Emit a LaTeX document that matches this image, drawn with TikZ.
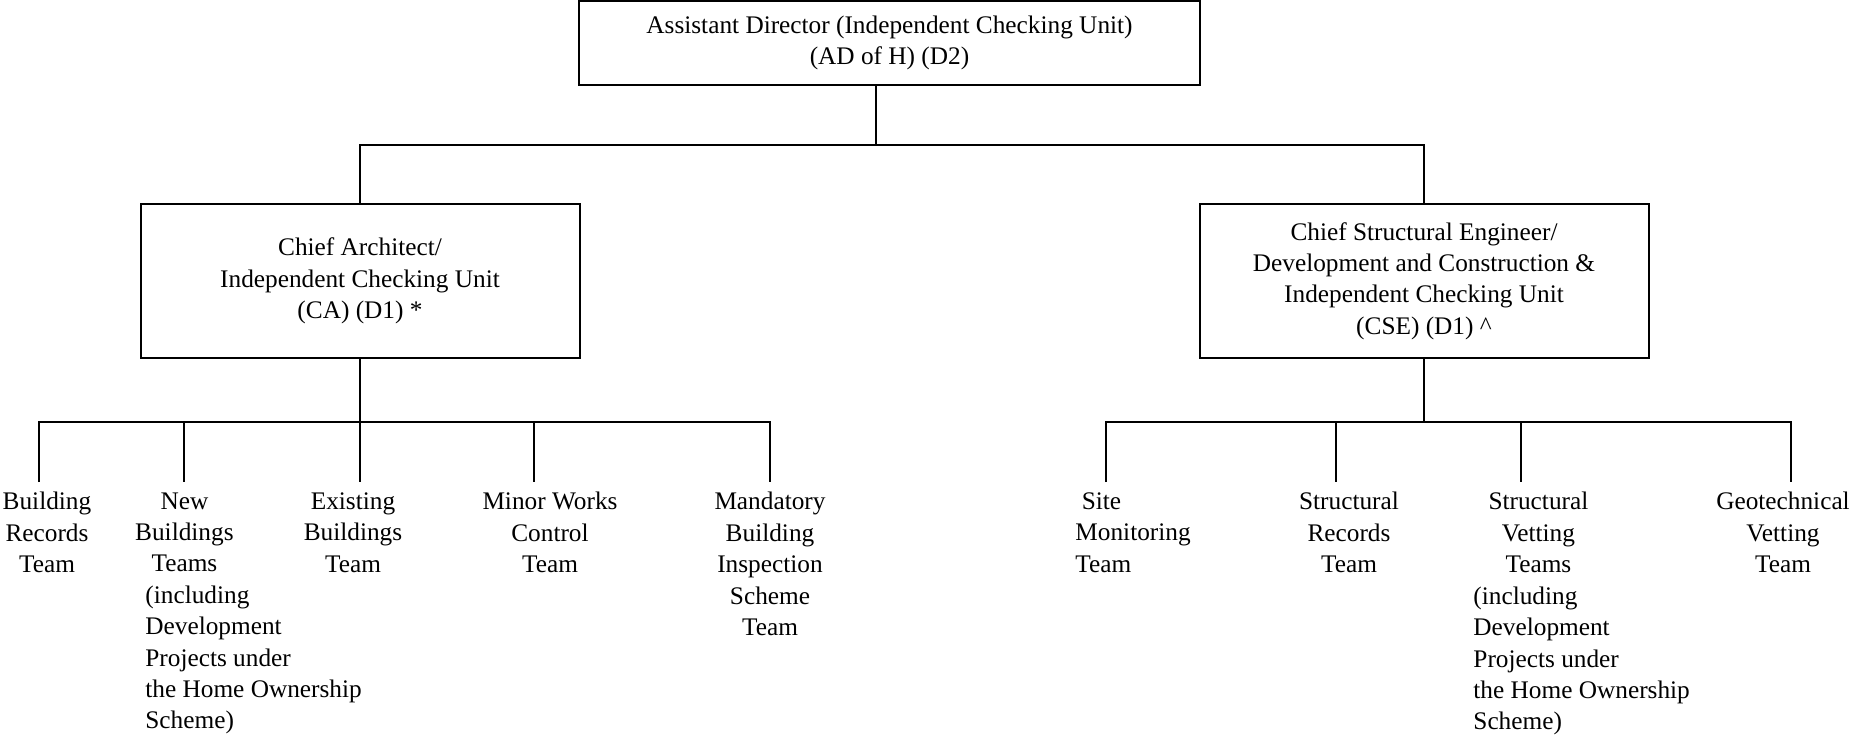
\documentclass[tikz,border=0pt]{standalone}
\usepackage{fontspec}
\setmainfont{Liberation Serif}
\usepackage{tikz}
\usetikzlibrary{positioning}
\newlength\px
\setlength\px{0.4743pt}
\tikzset{unitbox/.style = {draw, line width=0.95pt, align=center, inner sep=0pt,
                           font=\fontsize{12}{14.9}\selectfont},
         team/.style = {anchor=north, align=center, inner sep=0pt,
                        font=\fontsize{12}{14.9}\selectfont},
         link/.style = {line width=0.95pt}}

\begin{document}
\begin{tikzpicture}[x=\px, y=-\px]
      \useasboundingbox (0,0) rectangle (1849,737);

      \node [unitbox, minimum width=621\px, minimum height=84\px] (ad) at (889.5,43)
        {Assistant Director (Independent Checking Unit)\\(AD of H) (D2)};
      \node [unitbox, minimum width=439\px, minimum height=154\px] (ca) at (360,281)
        {Chief Architect/\\Independent Checking Unit\\(CA) (D1) *};
      \node [unitbox, minimum width=449\px, minimum height=154\px] (cse) at (1424,281)
        {Chief Structural Engineer/\\Development and Construction \&\\Independent Checking Unit\\(CSE) (D1) \textasciicircum};

      \coordinate (jad) at (876,145);
      \coordinate (jca) at (360,422);
      \coordinate (jcse) at (1424,422);
      \coordinate (d1) at (39,482);
      \coordinate (d2) at (184,482);
      \coordinate (d3) at (360,482);
      \coordinate (d4) at (534,482);
      \coordinate (d5) at (770,482);
      \coordinate (e1) at (1106,482);
      \coordinate (e2) at (1336,482);
      \coordinate (e3) at (1521,482);
      \coordinate (e4) at (1791,482);

      \draw [link] (jad |- ad.south) -- (jad);
      \draw [link] (ca.north) |- (jad) -| (cse.north);
      \draw [link] (ca.south) -- (jca);
      \draw [link] (cse.south) -- (jcse);
      \draw [link] (d1) -- (d1 |- jca) -- (d5 |- jca) -- (d5);
      \draw [link] (e1) -- (e1 |- jcse) -- (e4 |- jcse) -- (e4);
      \foreach \d in {d2,d3,d4,e2,e3} {
        \draw [link] (\d |- jca) -- (\d);
      }

      \node [team] (brt) at (47,492) {Building\\Records\\Team};
      \node [team, anchor=north west, align=left] (nbt) at (145,492)
        {\makebox[78\px]{New}\\\makebox[78\px]{Buildings}\\\makebox[78\px]{Teams}\\(including\\Development\\Projects under\\the Home Ownership\\Scheme)};
      \node [team] (ebt) at (353,492) {Existing\\Buildings\\Team};
      \node [team] (mwct) at (550,492) {Minor Works\\Control\\Team};
      \node [team] (mbis) at (770,492) {Mandatory\\Building\\Inspection\\Scheme\\Team};
      \node [team, anchor=north west, align=left] (smt) at (1075,492) {~Site\\Monitoring\\Team};
      \node [team] (srt) at (1349,492) {Structural\\Records\\Team};
      \node [team, anchor=north west, align=left] (svt) at (1473,492)
        {\makebox[130\px]{Structural}\\\makebox[130\px]{Vetting}\\\makebox[130\px]{Teams}\\(including\\Development\\Projects under\\the Home Ownership\\Scheme)};
      \node [team] (gvt) at (1783,492) {Geotechnical\\Vetting\\Team};
    \end{tikzpicture}
\end{document}
